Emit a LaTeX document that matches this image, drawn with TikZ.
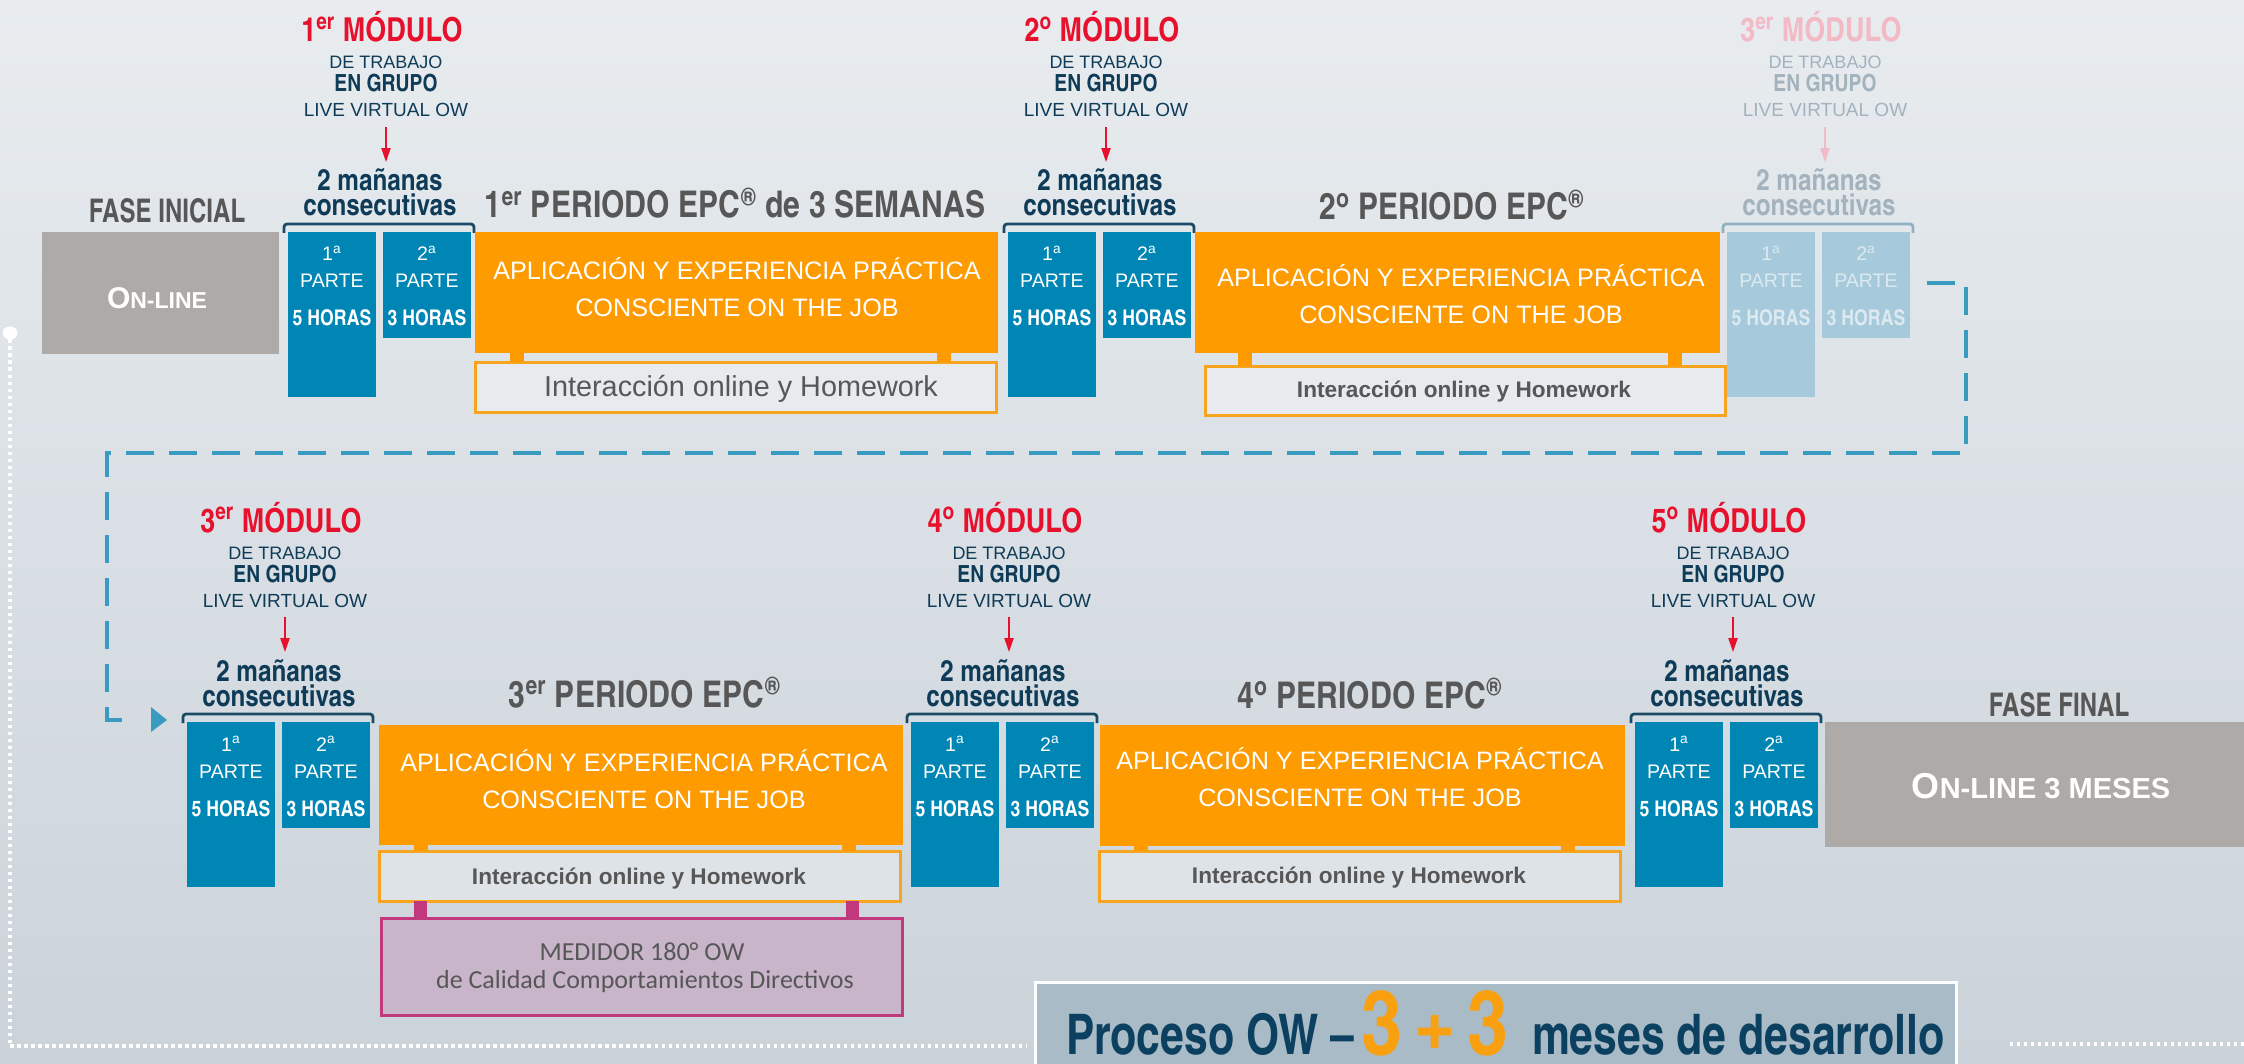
\documentclass[tikz,border=0pt]{standalone}
\usepackage{fontspec}
\setmainfont{Liberation Sans}
\newfontfamily\cn{texgyreheroscn}[Extension=.otf,UprightFont=*-regular,BoldFont=*-bold]
\newfontfamily\carlfont{Carlito}
\usetikzlibrary{arrows.meta,shapes.geometric}
\definecolor{bgtop}{HTML}{E8ECEF}
\definecolor{bgbot}{HTML}{CBD3DA}
\definecolor{cred}{HTML}{E8112D}
\definecolor{cnavy}{HTML}{0E3B57}
\definecolor{cblue}{HTML}{0086B4}
\definecolor{cbrk}{HTML}{1B4A67}
\definecolor{cwhite}{HTML}{FFFFFF}
\definecolor{cfred}{HTML}{F3B9C5}
\definecolor{cfnavy}{HTML}{A3B3BE}
\definecolor{cfblue}{HTML}{A6CADB}
\definecolor{cfbrk}{HTML}{8FB1C2}
\definecolor{cftxt}{HTML}{DCEAF0}
\definecolor{corange}{HTML}{FD9B00}
\definecolor{iborder}{HTML}{F7A51F}
\definecolor{cgray}{HTML}{575757}
\definecolor{cgbox}{HTML}{AEAAA8}
\definecolor{cdash}{HTML}{3A9BC1}
\definecolor{cmag}{HTML}{C2387C}
\definecolor{cmdfill}{HTML}{C8B5C9}
\definecolor{ctbox}{HTML}{A9BBC6}
\definecolor{ctnavy}{HTML}{0C4060}
\definecolor{ctor}{HTML}{F9A010}
\colorlet{mred}{cred}\colorlet{mnavy}{cnavy}\colorlet{mblue}{cblue}
\colorlet{mbrk}{cbrk}\colorlet{mtxt}{cwhite}
\newcommand\normcols{\colorlet{mred}{cred}\colorlet{mnavy}{cnavy}\colorlet{mblue}{cblue}\colorlet{mbrk}{cbrk}\colorlet{mtxt}{cwhite}}
\newcommand\fadecols{\colorlet{mred}{cfred}\colorlet{mnavy}{cfnavy}\colorlet{mblue}{cfblue}\colorlet{mbrk}{cfbrk}\colorlet{mtxt}{cftxt}}
\tikzset{
  every node/.style={inner sep=0pt, outer sep=0pt},
  mtitle/.style={font=\cn\bfseries\fontsize{16.5}{18}\selectfont, text=mred},
  mde/.style={font=\fontsize{9}{10}\selectfont, text=mnavy},
  men/.style={font=\cn\bfseries\fontsize{11.8}{12}\selectfont, text=mnavy},
  mlive/.style={font=\fontsize{9.5}{10}\selectfont, text=mnavy},
  mdias/.style={font=\cn\bfseries\fontsize{14.8}{12.5}\selectfont, text=mnavy, align=center},
  marrow/.style={draw=mred, line width=1pt, -{Triangle[length=7pt,width=4.5pt]}},
  mbracket/.style={draw=mbrk, line width=1.4pt, rounded corners=1.5pt},
  mbox/.style={fill=mblue, minimum width=44pt},
  bsmall/.style={font=\fontsize{9.8}{10}\selectfont, text=mtxt},
  bhor/.style={font=\cn\bfseries\fontsize{10.8}{11}\selectfont, text=mtxt},
  obox/.style={fill=corange},
  otxt/.style={font=\fontsize{12.6}{13}\selectfont, text=white},
  oleg/.style={draw=corange, line width=7pt},
  ibox/.style={draw=iborder, line width=1.5pt, fill=white, fill opacity=0.3, text opacity=1},
  itxtA/.style={font=\fontsize{14.4}{15}\selectfont, text=cgray},
  itxtB/.style={font=\bfseries\fontsize{11.3}{12}\selectfont, text=cgray},
  gbox/.style={fill=cgbox},
  gtxt/.style={font=\bfseries, text=white},
  phead/.style={font=\cn\bfseries\fontsize{18.4}{20}\selectfont, text=cgray},
  fhead/.style={font=\cn\bfseries\fontsize{16.3}{18}\selectfont, text=cgray},
  dashconn/.style={draw=cdash, line width=2pt, dash pattern=on 14pt off 7.5pt},
  wdot/.style={draw=white, line width=1.8pt, dash pattern=on 1.6pt off 1.9pt},
  mleg/.style={draw=cmag, line width=6.5pt},
  mdbox/.style={draw=cmag, line width=1.5pt, fill=cmdfill},
  mdtxt/.style={font=\carlfont\fontsize{13}{14}\selectfont, text=cgray},
}
\newcommand\owmod[5]{%
\begin{scope}[shift={(#2,#3)}]
#5%
\node[mtitle,anchor=base] (#1-t) at (98,-182) {#4};
\node[mde,anchor=base] (#1-de) at (102,-155) {DE TRABAJO};
\node[men,anchor=base] (#1-en) at (102,-132) {EN GRUPO};
\node[mlive,anchor=base] (#1-live) at (102,-107) {LIVE VIRTUAL OW};
\node[mdias,anchor=base] (#1-dias) at (96,-8) {2 mañanas\\consecutivas};
\draw[marrow, shorten <=5pt, shorten >=3.5pt] (#1-live.south) -- (#1-live.south |- #1-dias.north);
\draw[mbracket] (0,9) -- (0,0) -- (190,0) -- (190,9);
\node[mbox,minimum height=82.5pt,anchor=north west] (#1-a) at (4,8) {};
\node[mbox,minimum height=53pt,anchor=north west] (#1-b) at (99,8) {};
\node[bsmall,anchor=base] (#1-an) at (48,37) {1\textsuperscript{a}};
\node[bsmall,anchor=base] (#1-ap) at (48,64) {PARTE};
\node[bhor,anchor=base] (#1-ah) at (48,102) {5 HORAS};
\node[bsmall,anchor=base] (#1-bn) at (143,37) {2\textsuperscript{a}};
\node[bsmall,anchor=base] (#1-bp) at (143,64) {PARTE};
\node[bhor,anchor=base] (#1-bh) at (143,102) {3 HORAS};
\end{scope}}
\begin{document}
\begin{tikzpicture}[x=0.5pt,y=-0.5pt]
\useasboundingbox (0,0) rectangle (2244,1064);
\shade[top color=bgtop, bottom color=bgbot] (0,0) rectangle (2244,1064);

% white dotted timeline
\node[ellipse, fill=white, minimum width=7.5pt, minimum height=6.5pt] (wc) at (10,333) {};
\coordinate (wl) at (10,1046);
\coordinate (wr) at (1027,1046);
\coordinate (wr2) at (2010,1044);
\coordinate (wr3) at (2244,1044);
\draw[wdot] (wc) -- (wl) -- (wr);
\draw[wdot] (wr2) -- (wr3);

% modules
\owmod{m1}{284}{224}{1\textsuperscript{er} MÓDULO}{\normcols}
\owmod{m2}{1004}{224}{2\textsuperscript{o} MÓDULO}{\normcols}
\owmod{m3}{1723}{224}{3\textsuperscript{er} MÓDULO}{\fadecols}
\owmod{b3}{183}{714}{3\textsuperscript{er} MÓDULO}{\normcols}
\owmod{b4}{907}{714}{4\textsuperscript{o} MÓDULO}{\normcols}
\owmod{b5}{1631}{714}{5\textsuperscript{o} MÓDULO}{\normcols}

% fase inicial
\node[fhead,anchor=base] (fi) at (167,223) {\scalebox{0.9}[1]{FASE INICIAL}};
\node[gbox,minimum width=118.5pt,minimum height=61pt,anchor=north west] (g1) at (42,232) {};
\node[gtxt,anchor=base] (g1t) at (157,308) {{\fontsize{15}{15}\selectfont O}{\fontsize{11.5}{12}\selectfont N-LINE}};

% fase final
\node[fhead,anchor=base] (ff) at (2059,716) {\scalebox{0.9}[1]{FASE FINAL}};
\node[gbox,minimum width=209.5pt,minimum height=62.5pt,anchor=north west] (g2) at (1825,722) {};
\node[gtxt,anchor=base] (g2t) at (2041,798) {{\fontsize{18}{18}\selectfont O}{\fontsize{14.5}{15}\selectfont N-LINE 3 MESES}};

% periodo headings
\node[phead,anchor=base] (p1) at (735,218) {1\textsuperscript{er} PERIODO EPC\textsuperscript{®} de 3 SEMANAS};
\node[phead,anchor=base] (p2) at (1452,220) {2\textsuperscript{o} PERIODO EPC\textsuperscript{®}};
\node[phead,anchor=base] (p3) at (645,707) {3\textsuperscript{er} PERIODO EPC\textsuperscript{®}};
\node[phead,anchor=base] (p4) at (1370,708) {4\textsuperscript{o} PERIODO EPC\textsuperscript{®}};

% periodo 1
\node[obox,minimum width=261.5pt,minimum height=60.5pt,anchor=north west] (o1) at (475,232) {};
\node[otxt,anchor=base] (o1a) at (737,280) {APLICACIÓN Y EXPERIENCIA PRÁCTICA};
\node[otxt,anchor=base] (o1b) at (737,317) {CONSCIENTE ON THE JOB};
\node[ibox,minimum width=260.5pt,minimum height=25pt,anchor=north west] (i1) at (475,362) {};
\node[itxtA,anchor=base] (i1t) at (741,396) {Interacción online y Homework};
\draw[oleg] ([xshift=21pt]o1.south west) -- ([xshift=21pt]o1.south west |- i1.north);
\draw[oleg] ([xshift=234.5pt]o1.south west) -- ([xshift=234.5pt]o1.south west |- i1.north);

% periodo 2
\node[obox,minimum width=262.5pt,minimum height=60.5pt,anchor=north west] (o2) at (1195,232) {};
\node[otxt,anchor=base] (o2a) at (1461,286) {APLICACIÓN Y EXPERIENCIA PRÁCTICA};
\node[otxt,anchor=base] (o2b) at (1461,323) {CONSCIENTE ON THE JOB};
\node[ibox,minimum width=260pt,minimum height=24.5pt,anchor=north west] (i2) at (1205,366) {};
\node[itxtB,anchor=base] (i2t) at (1464,397) {Interacción online y Homework};
\draw[oleg] ([xshift=25pt]o2.south west) -- ([xshift=25pt]o2.south west |- i2.north);
\draw[oleg] ([xshift=240pt]o2.south west) -- ([xshift=240pt]o2.south west |- i2.north);

% periodo 3
\node[obox,minimum width=262pt,minimum height=60pt,anchor=north west] (o3) at (379,725) {};
\node[otxt,anchor=base] (o3a) at (644,771) {APLICACIÓN Y EXPERIENCIA PRÁCTICA};
\node[otxt,anchor=base] (o3b) at (644,808) {CONSCIENTE ON THE JOB};
\node[ibox,minimum width=260.5pt,minimum height=25pt,anchor=north west] (i3) at (379,851) {};
\node[itxtB,anchor=base] (i3t) at (639,884) {Interacción online y Homework};
\draw[oleg] ([xshift=21pt]o3.south west) -- ([xshift=21pt]o3.south west |- i3.north);
\draw[oleg] ([xshift=235pt]o3.south west) -- ([xshift=235pt]o3.south west |- i3.north);
\node[mdbox,minimum width=260.5pt,minimum height=48.5pt,anchor=north west] (md) at (381,918) {};
\draw[mleg] ([xshift=20.5pt]i3.south west) -- ([xshift=20.5pt]i3.south west |- md.north);
\draw[mleg] ([xshift=236.5pt]i3.south west) -- ([xshift=236.5pt]i3.south west |- md.north);
\node[mdtxt,anchor=base] (mdt1) at (642,960) {MEDIDOR 180° OW};
\node[mdtxt,anchor=base] (mdt2) at (645,988) {de Calidad Comportamientos Directivos};

% periodo 4
\node[obox,minimum width=262.5pt,minimum height=60.5pt,anchor=north west] (o4) at (1100,725) {};
\node[otxt,anchor=base] (o4a) at (1360,769) {APLICACIÓN Y EXPERIENCIA PRÁCTICA};
\node[otxt,anchor=base] (o4b) at (1360,806) {CONSCIENTE ON THE JOB};
\node[ibox,minimum width=260.5pt,minimum height=25pt,anchor=north west] (i4) at (1099,851) {};
\node[itxtB,anchor=base] (i4t) at (1359,883) {Interacción online y Homework};
\draw[oleg] ([xshift=20.5pt]o4.south west) -- ([xshift=20.5pt]o4.south west |- i4.north);
\draw[oleg] ([xshift=234pt]o4.south west) -- ([xshift=234pt]o4.south west |- i4.north);

% dashed connector from first row to second row
\coordinate (d0) at (1927,283);
\coordinate (d1) at (1966,283);
\coordinate (d2) at (1966,453);
\coordinate (d3) at (107,453);
\coordinate (d4) at (107,720);
\coordinate (d5) at (137,720);
\draw[dashconn] (d0) -- (d1) -- (d2) -- (d3) -- (d4) -- (d5);
\fill[cdash] (151,707) -- (167,720) -- (151,732) -- cycle;

% bottom title
\node[draw=white, line width=1.5pt, fill=ctbox, minimum width=460.5pt, minimum height=45pt, anchor=north west] (tb) at (1035,982) {};
\node[anchor=base west] (tt1) at (1066,1054) {\scalebox{0.93}[1]{\cn\bfseries\fontsize{28}{28}\selectfont\color{ctnavy}Proceso OW –}};
\node[anchor=base west] (tt2) at (1361,1054) {\cn\bfseries\fontsize{45}{45}\selectfont\color{ctor}3\hspace{5.5pt}+\hspace{5.5pt}3};
\node[anchor=base west] (tt3) at (1532,1054) {\scalebox{0.93}[1]{\cn\bfseries\fontsize{28}{28}\selectfont\color{ctnavy}meses de desarrollo}};
\end{tikzpicture}
\end{document}
